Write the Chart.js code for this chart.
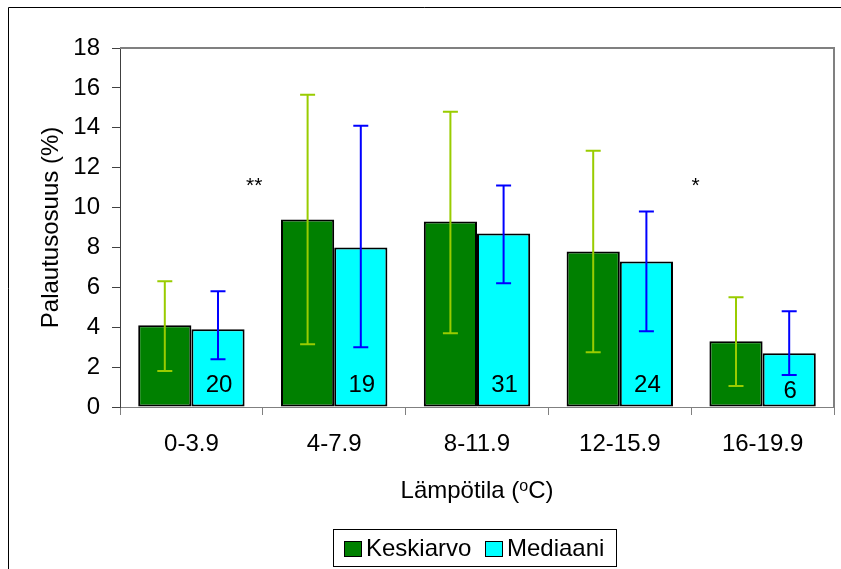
<!DOCTYPE html>
<html>
<head>
<meta charset="utf-8">
<script src="https://cdn.jsdelivr.net/npm/chart.js@4.4.0/dist/chart.umd.min.js"></script>
<style>
  body { margin: 0; background: #fff; }
  canvas { display: block; }
</style>
</head>
<body>
<canvas id="chart" width="841" height="569"></canvas>
<script>
// values
var categories = ['0-3.9', '4-7.9', '8-11.9', '12-15.9', '16-19.9'];
var meanValues = [4.1, 9.4, 9.3, 7.8, 3.3];
var meanLow = [1.8, 3.15, 3.7, 2.75, 1.05];
var meanHigh = [6.3, 15.65, 14.8, 12.85, 5.5];
var medianValues = [3.9, 8.0, 8.7, 7.3, 2.7];
var medianLow = [2.4, 3.0, 6.2, 3.8, 1.6];
var medianHigh = [5.8, 14.1, 11.1, 9.8, 4.8];
var counts = ['20', '19', '31', '24', '6'];
// significance marks: text, position between categories, height
var starText = ['**', '*'];
var starPos = [0.44, 3.53];
var starY = [11.2, 11.2];

var FONT = '"Liberation Sans", Arial, sans-serif';

// error bars, counts, stars, titles, legend and frame
var extras = {
  id: 'extras',
  afterDatasetsDraw: function(chart) {
    var ctx = chart.ctx;
    var x = chart.scales.x, y = chart.scales.y;
    var area = chart.chartArea;
    var bars = [
      { meta: chart.getDatasetMeta(0), lo: meanLow, hi: meanHigh, color: '#99CC00' },
      { meta: chart.getDatasetMeta(1), lo: medianLow, hi: medianHigh, color: '#0000FF' }
    ];
    ctx.save();
    bars.forEach(function(b) {
      ctx.strokeStyle = b.color;
      ctx.lineWidth = 2;
      b.meta.data.forEach(function(bar, i) {
        var top = y.getPixelForValue(b.hi[i]);
        var bot = y.getPixelForValue(b.lo[i]);
        ctx.beginPath();
        ctx.moveTo(bar.x, top); ctx.lineTo(bar.x, bot);
        ctx.moveTo(bar.x - 7.5, top); ctx.lineTo(bar.x + 7.5, top);
        ctx.moveTo(bar.x - 7.5, bot); ctx.lineTo(bar.x + 7.5, bot);
        ctx.stroke();
      });
    });

    // counts inside median bars, kept clear of the error bar end
    ctx.fillStyle = '#000';
    ctx.font = '24px ' + FONT;
    ctx.textAlign = 'center';
    ctx.textBaseline = 'middle';
    chart.getDatasetMeta(1).data.forEach(function(bar, i) {
      var ty = Math.max(y.getPixelForValue(0) - 22, y.getPixelForValue(medianLow[i]) + 16);
      ctx.fillText(counts[i], bar.x + 1, ty);
    });

    // stars
    ctx.font = '21px ' + FONT;
    starText.forEach(function(t, i) {
      ctx.fillText(t, x.getPixelForValue(0) + starPos[i] * (x.getPixelForValue(1) - x.getPixelForValue(0)),
        y.getPixelForValue(starY[i]) + 3);
    });

    // gray top and right border of the plot area
    ctx.strokeStyle = '#808080';
    ctx.lineWidth = 2;
    ctx.beginPath();
    ctx.moveTo(area.left, area.top);
    ctx.lineTo(area.right, area.top);
    ctx.lineTo(area.right, area.bottom);
    ctx.stroke();

    // y axis title
    ctx.save();
    ctx.translate(58, (area.top + area.bottom) / 2);
    ctx.rotate(-Math.PI / 2);
    ctx.font = '24px ' + FONT;
    ctx.textAlign = 'center';
    ctx.textBaseline = 'alphabetic';
    ctx.fillText('Palautusosuus (%)', 0, 0);
    ctx.restore();

    // x axis title with superscript
    var cx = (area.left + area.right) / 2;
    ctx.textAlign = 'left';
    ctx.textBaseline = 'alphabetic';
    var a = 'Lämpötila (', s = 'o', c = 'C)';
    ctx.font = '24px ' + FONT;
    var wa = ctx.measureText(a).width, wc = ctx.measureText(c).width;
    ctx.font = '16px ' + FONT;
    var ws = ctx.measureText(s).width;
    var sx = cx - (wa + ws + wc) / 2;
    ctx.font = '24px ' + FONT;
    ctx.fillText(a, sx, 498);
    ctx.font = '16px ' + FONT;
    ctx.fillText(s, sx + wa, 491);
    ctx.font = '24px ' + FONT;
    ctx.fillText(c, sx + wa + ws, 498);

    // legend
    ctx.strokeStyle = '#000';
    ctx.lineWidth = 1;
    ctx.strokeRect(333.5, 529.5, 283, 37);
    var items = chart.data.datasets;
    var lx = [344, 485];
    items.forEach(function(ds, i) {
      ctx.fillStyle = ds.backgroundColor;
      ctx.fillRect(lx[i], 541, 18, 16);
      ctx.strokeRect(lx[i] + 0.5, 541.5, 17, 15);
      ctx.fillStyle = '#000';
      ctx.font = '24px ' + FONT;
      ctx.textBaseline = 'alphabetic';
      ctx.fillText(ds.label, lx[i] + 22, 556);
    });

    // outer frame
    ctx.beginPath();
    ctx.moveTo(8.5, 569);
    ctx.lineTo(8.5, 7.5);
    ctx.lineTo(841, 7.5);
    ctx.stroke();
    ctx.restore();
  }
};

new Chart(document.getElementById('chart'), {
  type: 'bar',
  data: {
    labels: categories,
    datasets: [{
      label: 'Keskiarvo',
      data: meanValues,
      backgroundColor: '#008000',
      borderColor: '#000',
      borderWidth: 2,
      borderSkipped: false
    }, {
      label: 'Mediaani',
      data: medianValues,
      backgroundColor: '#00FFFF',
      borderColor: '#000',
      borderWidth: 2,
      borderSkipped: false
    }]
  },
  options: {
    responsive: false,
    animation: false,
    devicePixelRatio: 1,
    layout: { padding: { top: 48, right: 7, left: 0, bottom: 0 } },
    datasets: { bar: { categoryPercentage: 0.745, barPercentage: 1 } },
    plugins: { legend: { display: false }, tooltip: { enabled: false } },
    scales: {
      x: {
        grid: { drawOnChartArea: false, drawTicks: true, tickLength: 8, color: '#808080', offset: true },
        border: { display: true, color: '#808080', width: 1 },
        ticks: { color: '#000', font: { family: FONT, size: 24 }, padding: 15, maxRotation: 0 },
        afterFit: function(scale) { scale.height = 162; }
      },
      y: {
        min: 0,
        max: 18,
        ticks: { stepSize: 2, color: '#000', font: { family: FONT, size: 24 }, padding: 12 },
        grid: { drawOnChartArea: false, drawTicks: true, tickLength: 8, color: '#404040' },
        border: { display: true, color: '#404040', width: 1 },
        afterFit: function(scale) { scale.width = 120; }
      }
    }
  },
  plugins: [extras]
});
</script>
</body>
</html>
